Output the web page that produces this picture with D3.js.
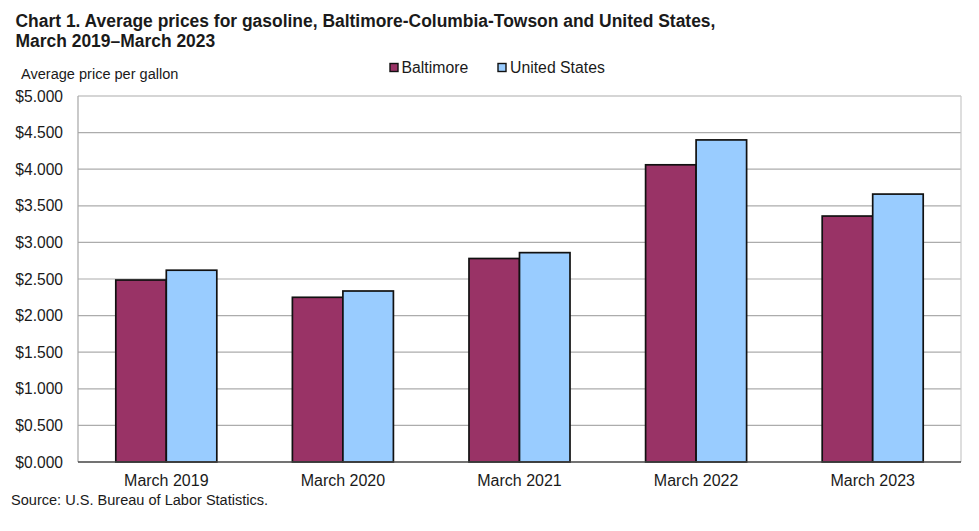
<!DOCTYPE html>
<html>
<head>
<meta charset="utf-8">
<style>
  body { margin: 0; background: #fff; }
  text { font-family: "Liberation Sans", Arial, sans-serif; fill: #1a1a1a; }
</style>
<script src="https://cdn.jsdelivr.net/npm/d3@7"></script>
</head>
<body>
<svg width="979" height="531"></svg>
<script>
// Chart data
const categories = ["March 2019", "March 2020", "March 2021", "March 2022", "March 2023"];
const seriesNames = ["Baltimore", "United States"];
const baltimore = [2.486, 2.25, 2.78, 4.06, 3.36];
const unitedStates = [2.62, 2.336, 2.86, 4.40, 3.66];
const yTicks = [0, 0.5, 1, 1.5, 2, 2.5, 3, 3.5, 4, 4.5, 5];
const titleLines = [
  "Chart 1. Average prices for gasoline, Baltimore-Columbia-Towson and United States,",
  "March 2019–March 2023"
];

const colors = ["#993366", "#99ccff"];
const seriesValues = [baltimore, unitedStates];

const margin = { top: 96, right: 18, bottom: 69, left: 78 },
  width = 979 - margin.left - margin.right,
  height = 531 - margin.top - margin.bottom;

const root = d3.select("svg");
const svg = root.append("g")
  .attr("transform", `translate(${margin.left},${margin.top})`);

const x = d3.scaleBand()
  .domain(categories)
  .range([0, width])
  .paddingInner(0.428)
  .paddingOuter(0.214);

const xInner = d3.scaleBand()
  .domain(seriesNames)
  .range([0, x.bandwidth()]);

const y = d3.scaleLinear().domain([0, 5]).range([height, 0]);

// Gridlines
svg.selectAll(".grid")
  .data(yTicks.filter(d => d > 0))
  .enter()
  .append("line")
  .attr("x1", 0)
  .attr("x2", width)
  .attr("y1", d => y(d))
  .attr("y2", d => y(d))
  .attr("stroke", "#acacac")
  .attr("stroke-width", 1.2);

// Plot frame left and right
svg.append("line").attr("x1", 0).attr("x2", 0).attr("y1", 0).attr("y2", height)
  .attr("stroke", "#a6a6a6").attr("stroke-width", 1.2);
svg.append("line").attr("x1", width).attr("x2", width).attr("y1", 0).attr("y2", height)
  .attr("stroke", "#c8c8c8").attr("stroke-width", 1.2);

// Y axis labels
const yAxis = svg.append("g")
  .call(d3.axisLeft(y).tickValues(yTicks).tickSize(0).tickPadding(15).tickFormat(d3.format("$.3f")));
yAxis.select(".domain").remove();
yAxis.selectAll("text")
  .style("font-size", "15.6px")
  .attr("fill", "#1a1a1a");

// Bars
seriesNames.forEach((name, i) => {
  svg.selectAll(".bar" + i)
    .data(seriesValues[i])
    .enter()
    .append("rect")
    .attr("x", (d, j) => x(categories[j]) + xInner(name))
    .attr("y", d => y(d))
    .attr("width", xInner.bandwidth())
    .attr("height", d => height - y(d))
    .attr("fill", colors[i])
    .attr("stroke", "#111")
    .attr("stroke-width", 1.7);
});

// Baseline
svg.append("line").attr("x1", 0).attr("x2", width).attr("y1", height).attr("y2", height)
  .attr("stroke", "#444").attr("stroke-width", 1.3);

// X axis labels
const xAxis = svg.append("g")
  .attr("transform", `translate(0,${height})`)
  .call(d3.axisBottom(x).tickSize(0).tickPadding(13));
xAxis.select(".domain").remove();
xAxis.selectAll("text")
  .style("font-size", "16px")
  .attr("fill", "#1a1a1a");

// Title
root.selectAll(".title")
  .data(titleLines)
  .enter()
  .append("text")
  .attr("x", 15.5)
  .attr("y", (d, i) => 27 + i * 20)
  .style("font-size", "17.45px")
  .style("font-weight", "bold")
  .text(d => d);

root.append("text")
  .attr("x", 21)
  .attr("y", 79)
  .style("font-size", "14.55px")
  .text("Average price per gallon");

root.append("text")
  .attr("x", 11)
  .attr("y", 505)
  .style("font-size", "14.55px")
  .text("Source: U.S. Bureau of Labor Statistics.");

// Legend
const legendX = [390, 498];
const legendLabelX = [401.5, 510];
seriesNames.forEach((name, i) => {
  root.append("rect")
    .attr("x", legendX[i])
    .attr("y", 63.5)
    .attr("width", 8)
    .attr("height", 8)
    .attr("fill", colors[i])
    .attr("stroke", "#111")
    .attr("stroke-width", 1.4);
  root.append("text")
    .attr("x", legendLabelX[i])
    .attr("y", 73)
    .style("font-size", "15.8px")
    .text(name);
});
</script>
</body>
</html>
